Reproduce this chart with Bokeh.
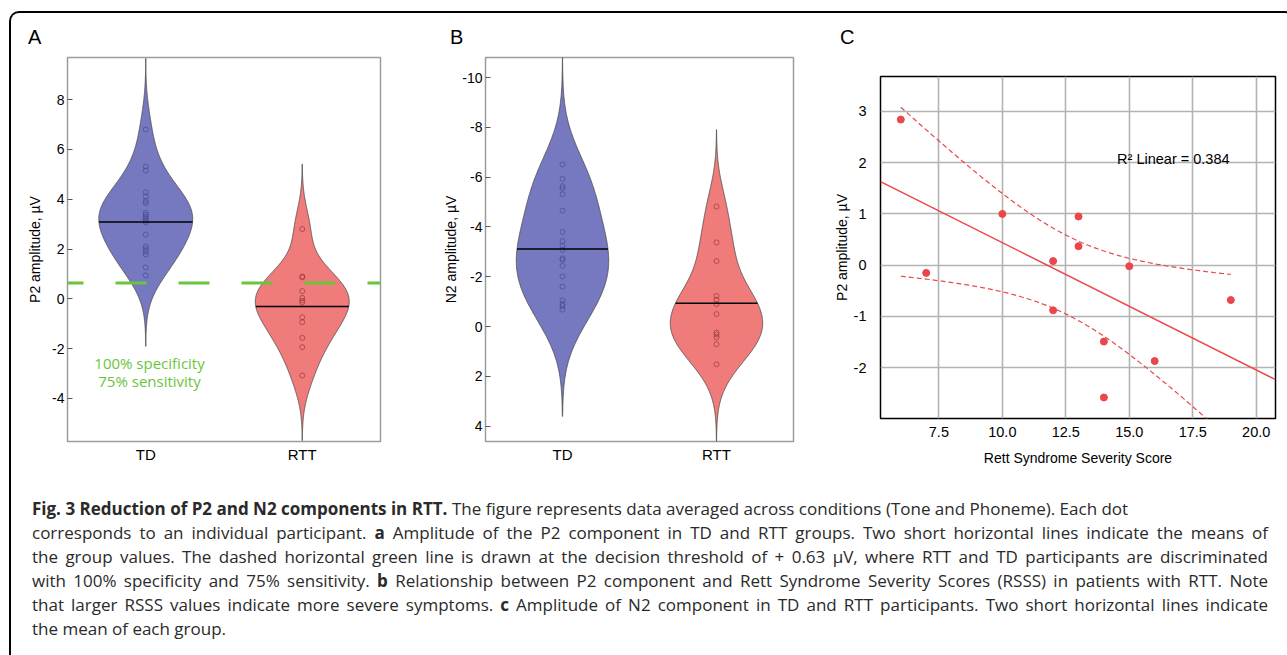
import numpy as np
from bokeh.plotting import figure
from bokeh.models import Range1d, FixedTicker, Span, Label, Div, PrintfTickFormatter
from bokeh.layouts import row, column
from bokeh.embed import file_html
from bokeh.resources import INLINE

# ---------------- data ----------------
groups = ["TD", "RTT"]
group_pos = [1, 2]
panel_letters = ["A", "B", "C"]

p2_td = [6.80, 5.31, 5.15, 4.28, 4.11, 3.92, 3.84, 3.45, 3.38, 3.30, 3.22, 3.14,
         3.07, 2.58, 2.10, 2.00, 1.90, 1.78, 1.26, 0.94]
p2_rtt = [2.80, 0.90, 0.86, 0.31, 0.04, -0.07, -0.15, -0.74, -0.94, -1.57, -1.94, -3.08]
p2_means = [3.08, -0.31]
threshold = 0.63

n2_td = [-6.51, -5.93, -5.64, -5.56, -5.32, -4.66, -3.80, -3.43, -3.23, -3.08, -2.74,
         -2.68, -2.44, -2.01, -1.60, -1.05, -0.90, -0.82, -0.68]
n2_rtt = [-4.82, -3.38, -2.63, -1.23, -1.07, -0.90, -0.50, 0.24, 0.32, 0.44, 0.71, 1.52]
n2_means = [-3.12, -0.94]

rsss = [6, 7, 10, 12, 12, 13, 13, 14, 14, 15, 16, 19]
p2_rsss = [2.84, -0.15, 1.00, 0.08, -0.88, 0.95, 0.37, -1.49, -2.58, -0.02, -1.87, -0.68]

p2_ticks = [-4, -2, 0, 2, 4, 6, 8]
n2_ticks = [-10, -8, -6, -4, -2, 0, 2, 4]
c_xticks = [7.5, 10.0, 12.5, 15.0, 17.5, 20.0]
c_yticks = [-2, -1, 0, 1, 2, 3]

caption_lines = [
    "<b>Fig. 3 Reduction of P2 and N2 components in RTT.</b> The figure represents data averaged across conditions (Tone and Phoneme). Each dot",
    "corresponds to an individual participant. <b>a</b> Amplitude of the P2 component in TD and RTT groups. Two short horizontal lines indicate the means of",
    "the group values. The dashed horizontal green line is drawn at the decision threshold of + 0.63 \u00b5V, where RTT and TD participants are discriminated",
    "with 100% specificity and 75% sensitivity. <b>b</b> Relationship between P2 component and Rett Syndrome Severity Scores (RSSS) in patients with RTT. Note",
    "that larger RSSS values indicate more severe symptoms. <b>c</b> Amplitude of N2 component in TD and RTT participants. Two short horizontal lines indicate",
    "the mean of each group.",
]

# ---------------- style ----------------
FONT = "Liberation Sans"
TD_FILL = "#7679bf"
RTT_FILL = "#f07b7b"
TD_PT = "#3f4290"
RTT_PT = "#8a2f2f"
GREEN = "#6ac53c"
RED = "#e9474a"
LETTER_LEFT = [17, 439, 829]


def kde_violin(vals, bw, half_width):
    v = np.asarray(vals, dtype=float)
    y = np.linspace(v.min() - 3 * bw, v.max() + 3 * bw, 400)
    d = np.exp(-0.5 * ((y[:, None] - v[None, :]) / bw) ** 2).sum(axis=1)
    w = d / d.max() * half_width
    return y, w


def draw_violin(p, center, vals, bw, half_width, fill, pt_color, mean):
    y, w = kde_violin(vals, bw, half_width)
    xs = np.concatenate([center - w, (center + w)[::-1]])
    ys = np.concatenate([y, y[::-1]])
    p.patch(xs, ys, fill_color=fill, line_color="#4a4a4a", line_width=0.8)
    p.scatter([center] * len(vals), vals, marker="circle", size=5,
              fill_color=None, line_color=pt_color, line_alpha=0.75, line_width=0.8)
    wm = np.interp(mean, y, w)
    p.line([center - wm, center + wm], [mean, mean], line_color="black", line_width=1.5)


def style_violin_axes(p, ticks, ylabel, label_standoff):
    p.outline_line_color = "#9c9c9c"
    p.outline_line_width = 1.5
    p.xgrid.visible = False
    p.ygrid.visible = False
    p.xaxis.ticker = FixedTicker(ticks=group_pos)
    p.xaxis.major_label_overrides = {1: groups[0], 2: groups[1]}
    p.yaxis.ticker = FixedTicker(ticks=ticks)
    p.yaxis.formatter = PrintfTickFormatter(format="%d")
    for ax in (p.xaxis[0], p.yaxis[0]):
        ax.axis_line_color = None
        ax.minor_tick_line_color = None
        ax.major_tick_out = 0
        ax.major_label_text_font = FONT
        ax.major_label_text_color = "black"
        ax.axis_label_text_font = FONT
        ax.axis_label_text_font_style = "normal"
        ax.axis_label_text_color = "black"
    p.xaxis.major_tick_line_color = None
    p.xaxis.major_tick_in = 0
    p.xaxis.major_label_text_font_size = "15px"
    p.xaxis.major_label_standoff = 4
    p.yaxis.major_tick_in = 5
    p.yaxis.major_tick_line_color = "#555555"
    p.yaxis.major_label_text_font_size = "14px"
    p.yaxis.major_label_standoff = 3
    p.yaxis.axis_label = ylabel
    p.yaxis.axis_label_text_font_size = "14px"
    p.yaxis.axis_label_standoff = label_standoff


# ---------------- panel letters ----------------
spans = "".join(
    f'<span style="position:absolute;left:{lx}px;top:14px;">{t}</span>'
    for t, lx in zip(panel_letters, LETTER_LEFT))
letters = Div(text=('<div style="position:relative;width:1272px;height:40px;'
                    'font-family:\'Liberation Sans\';font-size:20px;line-height:20px;color:black;">'
                    + spans + '</div>'),
              width=1272, height=40, margin=0)

# ---------------- panel A ----------------
pA = figure(width=429, height=422, x_range=Range1d(0.5, 2.5), y_range=Range1d(-5.73, 9.69),
            output_backend="svg", toolbar_location=None, frame_align=False, title=None,
            min_border_left=56, min_border_right=60, min_border_top=4, min_border_bottom=34)
draw_violin(pA, group_pos[0], p2_td, 0.95, 0.30, TD_FILL, TD_PT, p2_means[0])
draw_violin(pA, group_pos[1], p2_rtt, 0.87, 0.30, RTT_FILL, RTT_PT, p2_means[1])
pA.add_layout(Span(location=threshold, dimension="width", line_color=GREEN, line_width=3,
                   line_dash="31 32", line_dash_offset=15))
style_violin_axes(pA, p2_ticks, "P2 amplitude, \u00b5V", 6)
pA.add_layout(Label(x=1.024, y=-2.58, text="100% specificity", text_align="center",
                    text_baseline="middle", text_font="Open Sans", text_font_size="15px",
                    text_color=GREEN))
pA.add_layout(Label(x=1.024, y=-3.30, text="75% sensitivity", text_align="center",
                    text_baseline="middle", text_font="Open Sans", text_font_size="15px",
                    text_color=GREEN))

# ---------------- panel B ----------------
pB = figure(width=380, height=422, x_range=Range1d(0.5, 2.5), y_range=Range1d(4.62, -10.81),
            output_backend="svg", toolbar_location=None, frame_align=False, title=None,
            min_border_left=40, min_border_right=27, min_border_top=4, min_border_bottom=34)
draw_violin(pB, group_pos[0], n2_td, 1.43, 0.30, TD_FILL, TD_PT, n2_means[0])
draw_violin(pB, group_pos[1], n2_rtt, 1.03, 0.30, RTT_FILL, RTT_PT, n2_means[1])
style_violin_axes(pB, n2_ticks, "N2 amplitude, \u00b5V", 0)

# ---------------- panel C ----------------
xr = (5.2, 20.76)
pC = figure(width=463, height=422, x_range=Range1d(*xr), y_range=Range1d(-2.99, 3.68),
            output_backend="svg", toolbar_location=None, frame_align=False, title=None,
            min_border_left=60, min_border_right=8, min_border_top=23, min_border_bottom=57)
pC.outline_line_color = "black"
pC.outline_line_width = 1.5
pC.xaxis.ticker = FixedTicker(ticks=c_xticks)
pC.yaxis.ticker = FixedTicker(ticks=c_yticks)
pC.xaxis.formatter = PrintfTickFormatter(format="%.1f")
pC.yaxis.formatter = PrintfTickFormatter(format="%d")
for g in (pC.xgrid[0], pC.ygrid[0]):
    g.grid_line_color = "#b3b3b3"
    g.grid_line_width = 1.6
for ax in (pC.xaxis[0], pC.yaxis[0]):
    ax.axis_line_color = None
    ax.major_tick_line_color = None
    ax.major_tick_out = 0
    ax.major_tick_in = 0
    ax.minor_tick_line_color = None
    ax.major_label_text_font = FONT
    ax.major_label_text_font_size = "14.5px"
    ax.major_label_text_color = "black"
    ax.axis_label_text_font = FONT
    ax.axis_label_text_font_size = "14px"
    ax.axis_label_text_font_style = "normal"
    ax.axis_label_text_color = "black"
pC.xaxis.major_label_standoff = 8
pC.yaxis.major_label_standoff = 14
pC.xaxis.axis_label = "Rett Syndrome Severity Score"
pC.yaxis.axis_label = "P2 amplitude, \u00b5V"
pC.xaxis.axis_label_standoff = 10
pC.yaxis.axis_label_standoff = 1

x = np.asarray(rsss, dtype=float)
y = np.asarray(p2_rsss, dtype=float)
n = len(x)
xm, ym = x.mean(), y.mean()
sxx = ((x - xm) ** 2).sum()
sxy = ((x - xm) * (y - ym)).sum()
syy = ((y - ym) ** 2).sum()
slope = sxy / sxx
icpt = ym - slope * xm
r2 = sxy ** 2 / (sxx * syy)
s = np.sqrt((syy - slope * sxy) / (n - 2))
T_CRIT = 2.228  # t(0.975, df=10)
xl = np.array(xr)
pC.line(xl, icpt + slope * xl, line_color=RED, line_width=1.5)
xc = np.linspace(x.min(), x.max(), 200)
yc = icpt + slope * xc
half = T_CRIT * s * np.sqrt(1.0 / n + (xc - xm) ** 2 / sxx)
pC.line(xc, yc + half, line_color=RED, line_width=1.2, line_dash="5 3")
pC.line(xc, yc - half, line_color=RED, line_width=1.2, line_dash="5 3")
pC.scatter(x, y, marker="circle", size=7, fill_color=RED, line_color=RED)
pC.add_layout(Label(x=14.52, y=2.07, text=f"R\u00b2 Linear = {r2:.3f}", text_align="left",
                    text_baseline="middle", text_font=FONT, text_font_size="14.5px",
                    text_color="black"))

# ---------------- caption ----------------
line_divs = []
for i, ln in enumerate(caption_lines):
    just = "justify" if 1 <= i <= 4 else "left"
    line_divs.append(
        f'<div style="white-space:nowrap;text-align:{just};text-align-last:{just};">{ln}</div>')
html = ('<div style="font-family:\'Open Sans\';font-size:17px;line-height:24px;'
        'color:#2a2a2a;padding:17px 0 0 16px;box-sizing:content-box;width:1236px;">'
        + "".join(line_divs) + "</div>")
cap = Div(text=html, width=1272, height=172)

layout = column(letters, row(pA, pB, pC), cap, margin=(11, 0, 0, 9),
                styles={"border": "2px solid black", "border-bottom": "none",
                        "border-radius": "10px 10px 0 0"})

open("out.html", "w").write(file_html(layout, INLINE))
